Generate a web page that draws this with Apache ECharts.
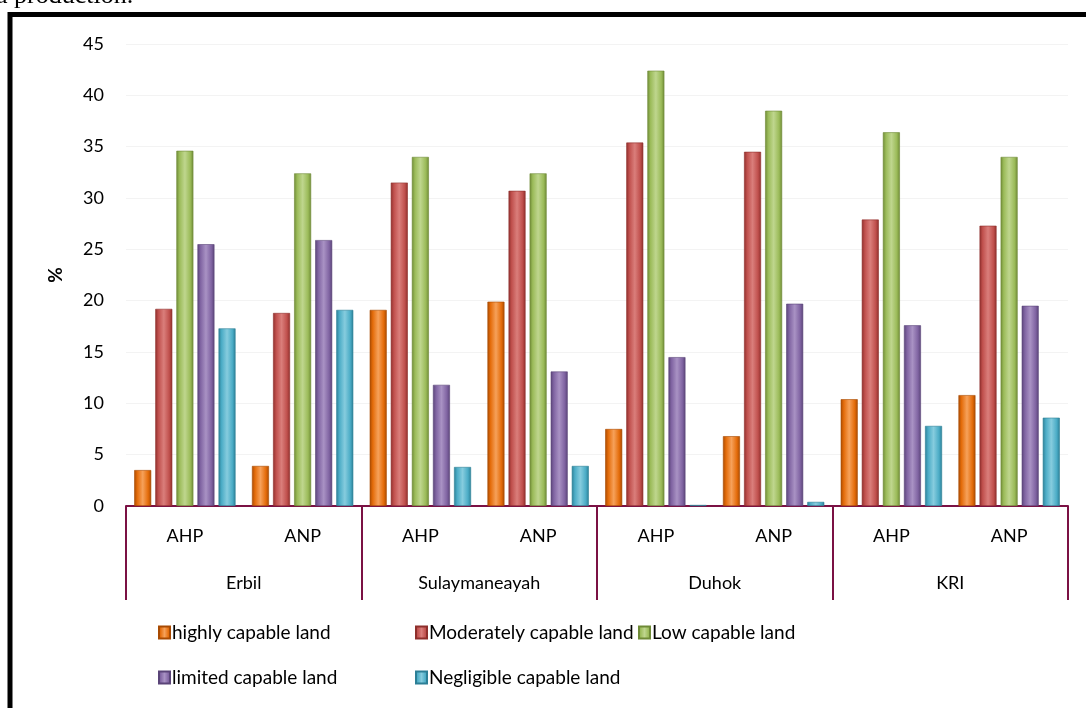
<!DOCTYPE html>
<html>
<head>
<meta charset="utf-8">
<script src="https://cdn.jsdelivr.net/npm/echarts@6/dist/echarts.min.js"></script>
<style>
html,body{margin:0;padding:0;background:#fff;}
#c{width:1086px;height:708px;}
</style>
</head>
<body>
<div id="c"></div>
<script>
var methods = ['AHP','ANP','AHP','ANP','AHP','ANP','AHP','ANP'];
var regions = ['Erbil','Sulaymaneayah','Duhok','KRI'];
var seriesNames = ['highly capable land','Moderately capable land','Low capable land','limited capable land','Negligible capable land'];
var highly     = [3.5, 3.9, 19.1, 19.9, 7.5, 6.8, 10.4, 10.8];
var moderately = [19.2, 18.8, 31.5, 30.7, 35.4, 34.5, 27.9, 27.3];
var low        = [34.6, 32.4, 34.0, 32.4, 42.4, 38.5, 36.4, 34.0];
var limited    = [25.5, 25.9, 11.8, 13.1, 14.5, 19.7, 17.6, 19.5];
var negligible = [17.3, 19.1, 3.8, 3.9, 0.1, 0.4, 7.8, 8.6];
var yTicks = [0,5,10,15,20,25,30,35,40,45];

var seriesData = [highly, moderately, low, limited, negligible];
var palette = [
  ['#A84A02','#E46C0A','#F6A15A'],
  ['#8E2F2C','#C0504D','#DA7E7B'],
  ['#6E8A36','#9BBB59','#BFD68E'],
  ['#5A4478','#8064A2','#A992C4'],
  ['#2C7F96','#4BACC6','#86CCDE']
];
function grad(p){
  return new echarts.graphic.LinearGradient(0,0,1,0,[
    {offset:0,color:p[0]},{offset:0.18,color:p[1]},{offset:0.5,color:p[2]},
    {offset:0.82,color:p[1]},{offset:1,color:p[0]}]);
}
var FONT = 'Lato';
var chart = echarts.init(document.getElementById('c'), null, {renderer:'canvas'});
var series = seriesNames.map(function(n,i){
  return {
    name:n, type:'bar', xAxisIndex:0, yAxisIndex:0,
    data: seriesData[i],
    barWidth:17, barGap:'24%',
    itemStyle:{color:grad(palette[i]), borderColor:palette[i][0], borderWidth:0.6}
  };
});
function legendAt(left, top, names){
  return {
    left:left, top:top, orient:'vertical', itemGap:26, padding:0,
    itemWidth:11, itemHeight:12, icon:'rect',
    data:names.map(function(n){return {name:n};}),
    textStyle:{fontFamily:FONT, fontSize:19, color:'#000', padding:[0,0,0,-3]},
    selectedMode:false
  };
}
chart.setOption({
  animation:false,
  color: palette.map(function(p){return p[1];}),
  grid:{left:126, right:18, top:44, bottom:202},
  legend:[
    legendAt(158, 623, [seriesNames[0], seriesNames[3]]),
    legendAt(415, 623, [seriesNames[1], seriesNames[4]]),
    legendAt(638, 623, [seriesNames[2]])
  ],
  xAxis:[
    {type:'category', data:methods, position:'bottom',
     axisLine:{show:false}, axisTick:{show:false},
     axisLabel:{margin:21, fontFamily:FONT, fontSize:18, color:'#000'}},
    {type:'category', data:regions, position:'bottom',
     axisLine:{show:true, lineStyle:{color:'#7B1144', width:2}},
     axisTick:{show:true, length:94, lineStyle:{color:'#7B1144', width:2}},
     axisLabel:{margin:68, fontFamily:FONT, fontSize:18, color:'#000'}}
  ],
  yAxis:{type:'value', min:0, max:45, interval:5,
    name:'%', nameLocation:'middle', nameRotate:90, nameGap:61,
    nameTextStyle:{fontFamily:FONT, fontSize:19, fontWeight:'bold', color:'#000'},
    axisLine:{show:false}, axisTick:{show:false},
    axisLabel:{margin:22, fontFamily:FONT, fontSize:18, color:'#000',
      formatter:function(v){return yTicks.indexOf(v)>=0 ? String(v) : '';}},
    splitLine:{show:true, lineStyle:{color:'#F3F3F3', width:1}}
  },
  series: series,
  graphic:[
    {type:'rect', shape:{x:10, y:14.5, width:1100, height:720},
     style:{fill:'none', stroke:'#000', lineWidth:5}, z:100},
    {type:'text', left:-4, top:-17,
     style:{text:'a production.', font:'26px "Liberation Serif"', fill:'#000'}, z:100}
  ]
});
</script>
</body>
</html>
